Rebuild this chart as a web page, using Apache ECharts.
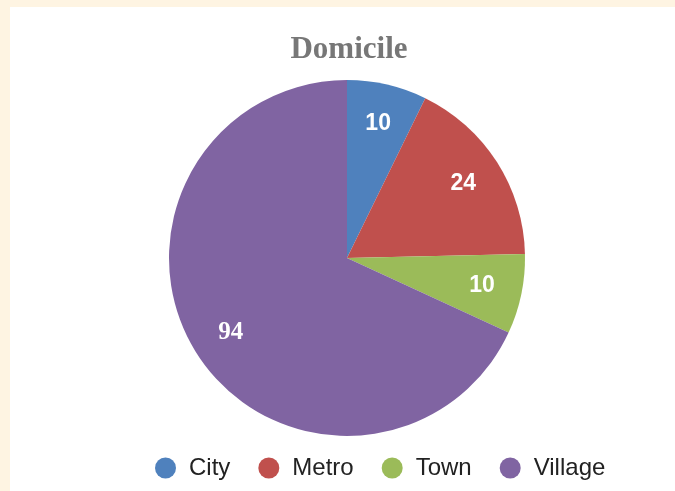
<!DOCTYPE html>
<html>
<head>
<meta charset="utf-8">
<script src="https://cdn.jsdelivr.net/npm/echarts@6/dist/echarts.min.js"></script>
<style>
  html, body { margin: 0; padding: 0; background: #fef4e2; }
  #wrap { position: absolute; left: 10px; top: 7px; width: 665px; height: 484px; background: #ffffff; }
  #chart { width: 665px; height: 484px; }
</style>
</head>
<body>
<div id="wrap"><div id="chart"></div></div>
<script>
var categories = ['City', 'Metro', 'Town', 'Village'];
var counts = [10, 24, 10, 94];
var colors = ['#4f81bd', '#c0504d', '#9bbb59', '#8064a2'];

(function () {
  var myChart = echarts.init(document.getElementById('chart'));
  var pieData = categories.map(function (name, i) {
    return {
      name: name,
      value: counts[i],
      itemStyle: { color: colors[i] },
      // Village label is drawn in a serif face in the original
      label: name === 'Village' ? { fontFamily: '"Liberation Serif", serif', fontSize: 25 } : {}
    };
  });

  var option = {
    backgroundColor: '#ffffff',
    animation: false,
    title: {
      text: 'Domicile',
      left: 334,
      textAlign: 'center',
      top: 22,
      textStyle: {
        fontFamily: '"Liberation Serif", serif',
        fontWeight: 'bold',
        fontSize: 31,
        color: '#777777'
      }
    },
    legend: {
      bottom: 6,
      left: 140,
      icon: 'circle',
      itemWidth: 21,
      itemHeight: 21,
      itemGap: 28,
      data: categories,
      textStyle: {
        fontFamily: '"Liberation Sans", Arial, sans-serif',
        fontSize: 24,
        color: '#222222',
        padding: [0, 0, 0, 8]
      }
    },
    series: [
      {
        type: 'pie',
        center: [337, 251],
        radius: [0, 178],
        startAngle: 90,
        clockwise: true,
        silent: true,
        itemStyle: { borderWidth: 0 },
        label: { show: false },
        labelLine: { show: false },
        data: pieData
      },
      {
        // transparent ring used only to place labels at ~3/4 of the radius
        type: 'pie',
        center: [337, 251],
        radius: [92, 178],
        startAngle: 90,
        clockwise: true,
        silent: true,
        itemStyle: { color: 'rgba(0,0,0,0)', borderWidth: 0 },
        label: {
          show: true,
          position: 'inside',
          formatter: '{c}',
          color: '#ffffff',
          fontWeight: 'bold',
          fontSize: 23,
          fontFamily: '"Liberation Sans", Arial, sans-serif'
        },
        labelLine: { show: false },
        data: pieData.map(function (d) {
          return { name: d.name, value: d.value, label: d.label };
        })
      }
    ]
  };
  myChart.setOption(option);
  window.addEventListener('resize', function () {
    myChart.resize();
  });
})();
</script>
</body>
</html>
